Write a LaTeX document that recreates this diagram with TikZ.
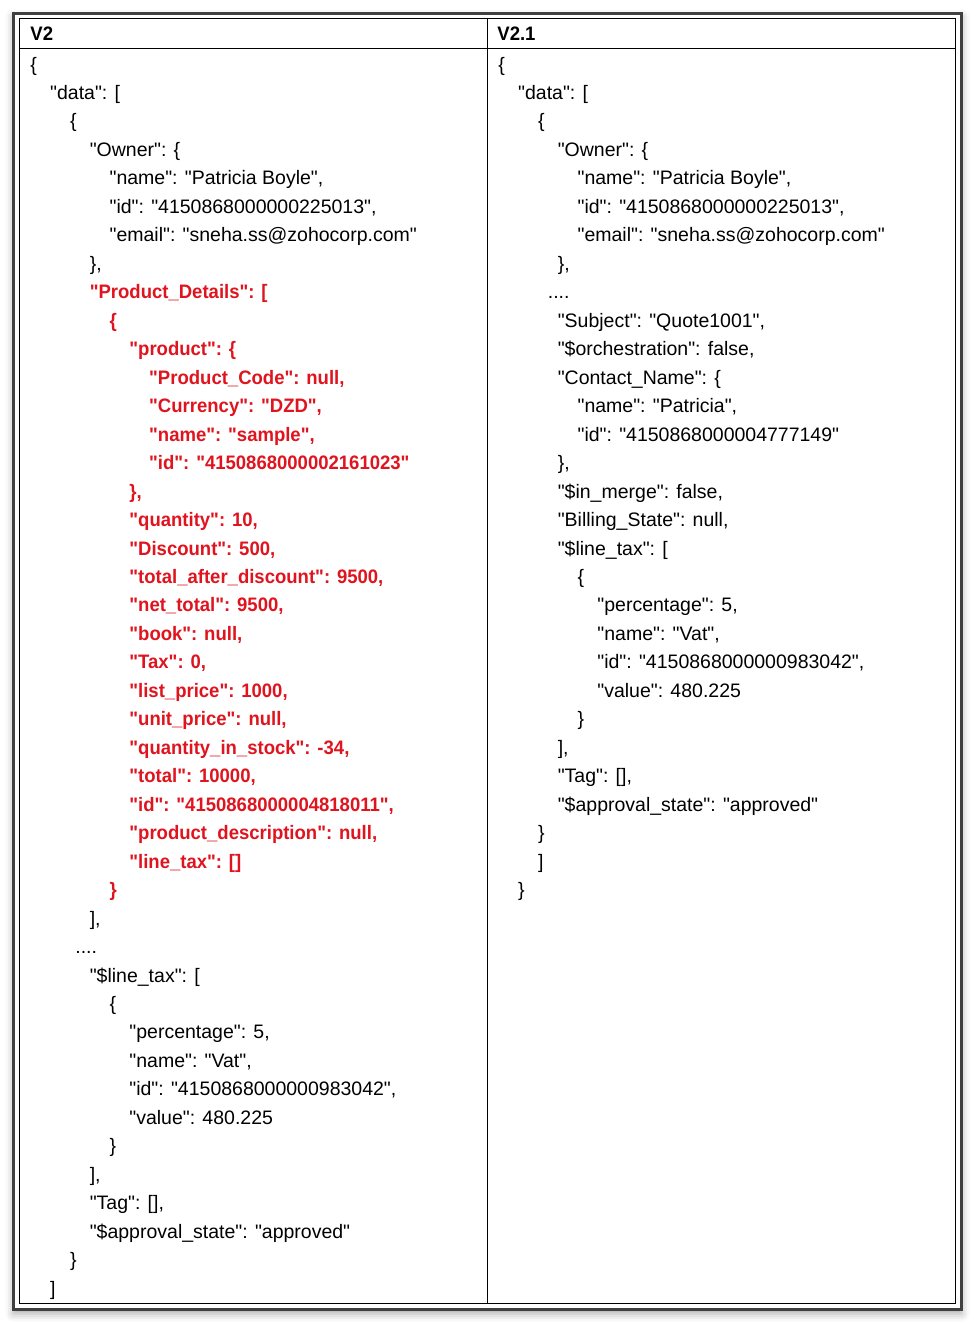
\documentclass[tikz,border=0pt]{standalone}
\usepackage{fontspec}
\usetikzlibrary{shadows.blur}
\newfontfamily\jsonface{Liberation Sans}[BoldFeatures={FakeStretch=0.95}]
\newcommand{\jsonfont}{\jsonface\fontsize{9.75pt}{11pt}\selectfont}
\definecolor{jsonred}{RGB}{224,20,30}
\tikzset{
  jtxt/.style={anchor=base west, inner sep=0pt, font=\jsonfont},
  jred/.style={jtxt, text=jsonred, font=\jsonfont\bfseries},
  headtxt/.style={anchor=base west, inner sep=0pt, font=\jsonfont\bfseries},
  tableline/.style={line width=0.5pt, draw=black},
  framebox/.style={line width=1.5pt, draw=black!75}
}
\begin{document}
\begin{tikzpicture}[x=0.5pt, y=-0.5pt]
                \useasboundingbox (0,0) rectangle (976,1324);
                % Frame and table:
                \draw[framebox, fill=white, blur shadow={shadow xshift=0pt, shadow yshift=-2pt, shadow blur radius=4pt, shadow opacity=35}] (13.5,13.5) rectangle (961.5,1309.5);
                \draw[tableline] (19,18.5) rectangle (955.5,1303.5);
                \draw[tableline] (19,48.5) -- (955.5,48.5);
                \draw[tableline] (487,18.5) -- (487,1303.5);
                \node[headtxt] (hv2) at (30,40.5) {V2};
                \node[headtxt] (hv21) at (497,40.5) {V2.1};
                % Left column (V2):
                \begin{scope}[shift={(30,71)}, x=9.9pt, y=-14.235pt]
                \node[jtxt] (l1) at (0,0) {\{};
                \node[jtxt] (l2) at (1,1) {"data": [};
                \node[jtxt] (l3) at (2,2) {\{};
                \node[jtxt] (l4) at (3,3) {"Owner": \{};
                \node[jtxt] (l5) at (4,4) {"name": "Patricia Boyle",};
                \node[jtxt] (l6) at (4,5) {"id": "4150868000000225013",};
                \node[jtxt] (l7) at (4,6) {"email": "sneha.ss@zohocorp.com"};
                \node[jtxt] (l8) at (3,7) {\},};
                \node[jred] (l9) at (3,8) {"Product\_Details": [};
                \node[jred] (l10) at (4,9) {\{};
                \node[jred] (l11) at (5,10) {"product": \{};
                \node[jred] (l12) at (6,11) {"Product\_Code": null,};
                \node[jred] (l13) at (6,12) {"Currency": "DZD",};
                \node[jred] (l14) at (6,13) {"name": "sample",};
                \node[jred] (l15) at (6,14) {"id": "4150868000002161023"};
                \node[jred] (l16) at (5,15) {\},};
                \node[jred] (l17) at (5,16) {"quantity": 10,};
                \node[jred] (l18) at (5,17) {"Discount": 500,};
                \node[jred] (l19) at (5,18) {"total\_after\_discount": 9500,};
                \node[jred] (l20) at (5,19) {"net\_total": 9500,};
                \node[jred] (l21) at (5,20) {"book": null,};
                \node[jred] (l22) at (5,21) {"Tax": 0,};
                \node[jred] (l23) at (5,22) {"list\_price": 1000,};
                \node[jred] (l24) at (5,23) {"unit\_price": null,};
                \node[jred] (l25) at (5,24) {"quantity\_in\_stock": -34,};
                \node[jred] (l26) at (5,25) {"total": 10000,};
                \node[jred] (l27) at (5,26) {"id": "4150868000004818011",};
                \node[jred] (l28) at (5,27) {"product\_description": null,};
                \node[jred] (l29) at (5,28) {"line\_tax": []};
                \node[jred] (l30) at (4,29) {\}};
                \node[jtxt] (l31) at (3,30) {],};
                \node[jtxt] (l32) at (2.27,31) {....};
                \node[jtxt] (l33) at (3,32) {"\$line\_tax": [};
                \node[jtxt] (l34) at (4,33) {\{};
                \node[jtxt] (l35) at (5,34) {"percentage": 5,};
                \node[jtxt] (l36) at (5,35) {"name": "Vat",};
                \node[jtxt] (l37) at (5,36) {"id": "4150868000000983042",};
                \node[jtxt] (l38) at (5,37) {"value": 480.225};
                \node[jtxt] (l39) at (4,38) {\}};
                \node[jtxt] (l40) at (3,39) {],};
                \node[jtxt] (l41) at (3,40) {"Tag": [],};
                \node[jtxt] (l42) at (3,41) {"\$approval\_state": "approved"};
                \node[jtxt] (l43) at (2,42) {\}};
                \node[jtxt] (l44) at (1,43) {]};
                \end{scope}
                % Right column (V2.1):
                \begin{scope}[shift={(498,71)}, x=9.9pt, y=-14.235pt]
                \node[jtxt] (r1) at (0,0) {\{};
                \node[jtxt] (r2) at (1,1) {"data": [};
                \node[jtxt] (r3) at (2,2) {\{};
                \node[jtxt] (r4) at (3,3) {"Owner": \{};
                \node[jtxt] (r5) at (4,4) {"name": "Patricia Boyle",};
                \node[jtxt] (r6) at (4,5) {"id": "4150868000000225013",};
                \node[jtxt] (r7) at (4,6) {"email": "sneha.ss@zohocorp.com"};
                \node[jtxt] (r8) at (3,7) {\},};
                \node[jtxt] (r9) at (2.5,8) {....};
                \node[jtxt] (r10) at (3,9) {"Subject": "Quote1001",};
                \node[jtxt] (r11) at (3,10) {"\$orchestration": false,};
                \node[jtxt] (r12) at (3,11) {"Contact\_Name": \{};
                \node[jtxt] (r13) at (4,12) {"name": "Patricia",};
                \node[jtxt] (r14) at (4,13) {"id": "4150868000004777149"};
                \node[jtxt] (r15) at (3,14) {\},};
                \node[jtxt] (r16) at (3,15) {"\$in\_merge": false,};
                \node[jtxt] (r17) at (3,16) {"Billing\_State": null,};
                \node[jtxt] (r18) at (3,17) {"\$line\_tax": [};
                \node[jtxt] (r19) at (4,18) {\{};
                \node[jtxt] (r20) at (5,19) {"percentage": 5,};
                \node[jtxt] (r21) at (5,20) {"name": "Vat",};
                \node[jtxt] (r22) at (5,21) {"id": "4150868000000983042",};
                \node[jtxt] (r23) at (5,22) {"value": 480.225};
                \node[jtxt] (r24) at (4,23) {\}};
                \node[jtxt] (r25) at (3,24) {],};
                \node[jtxt] (r26) at (3,25) {"Tag": [],};
                \node[jtxt] (r27) at (3,26) {"\$approval\_state": "approved"};
                \node[jtxt] (r28) at (2,27) {\}};
                \node[jtxt] (r29) at (2,28) {]};
                \node[jtxt] (r30) at (1,29) {\}};
                \end{scope}
            \end{tikzpicture}
\end{document}
